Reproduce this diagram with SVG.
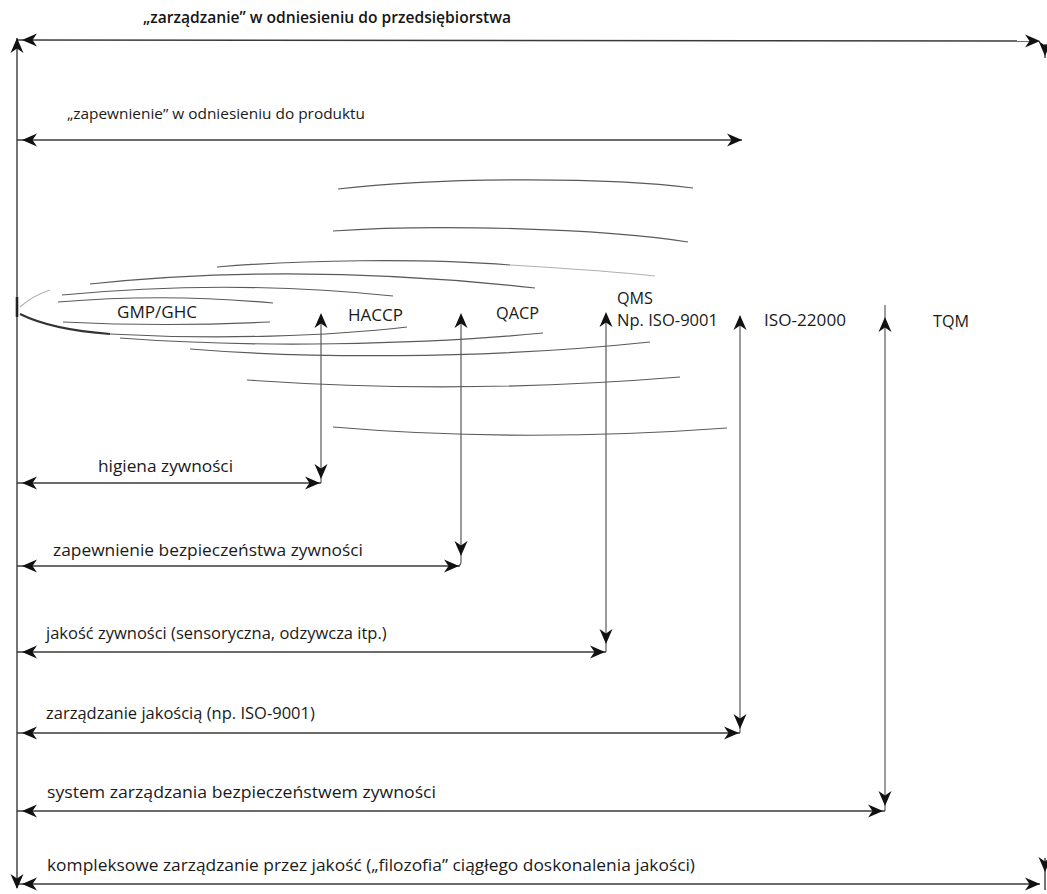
<svg xmlns="http://www.w3.org/2000/svg" xmlns:xlink="http://www.w3.org/1999/xlink" width="1047" height="894" viewBox="0 0 1047 894">
  <style>
    .lbl { font-family: "Open Sans", "Liberation Sans", sans-serif; font-size: 16px; fill: #1a1a1a; }
    .sys { font-family: "Open Sans", "Liberation Sans", sans-serif; font-size: 16.5px; fill: #1a1a1a; }
    .sub { font-family: "Open Sans", "Liberation Sans", sans-serif; font-size: 15px; fill: #1a1a1a; }
    .ttl { font-family: "Open Sans", "Liberation Sans", sans-serif; font-size: 15.5px; font-weight: 600; fill: #151515; }
    .dim { stroke: #3a3a3a; stroke-width: 1.4; fill: none; }
    .stem { stroke: #4a4a4a; stroke-width: 1.1; fill: none; }
    .arc { stroke: #5a5a5a; stroke-width: 1.2; fill: none; }
    .faint { stroke: #b0b0b0; stroke-width: 1.2; fill: none; }
    .head { fill: #111111; }
  </style>
  <defs>
    <!-- notched dart arrowhead, tip at the origin pointing along +x -->
    <path id="ah" d="M0,0 L-15,-6.5 L-10.5,0 L-15,6.5 Z"/>
  </defs>

  <rect width="1047" height="894" fill="#ffffff"/>

  <!-- frame and dimension lines -->
  <g id="connectors">
    <line class="dim" x1="17" y1="38" x2="17" y2="888"/>
    <line class="dim" x1="17" y1="40" x2="1040" y2="41"/>
    <line class="dim" x1="17" y1="140" x2="742" y2="140"/>
    <line class="dim" x1="17" y1="483" x2="321" y2="483"/>
    <line class="dim" x1="17" y1="566" x2="460" y2="566"/>
    <line class="dim" x1="17" y1="652" x2="606" y2="652"/>
    <line class="dim" x1="17" y1="733" x2="740" y2="733"/>
    <line class="dim" x1="17" y1="811" x2="885" y2="811"/>
    <line class="dim" x1="17" y1="884" x2="1040" y2="884"/>
    <line class="dim" x1="1045" y1="44" x2="1045" y2="58"/>
    <line class="dim" x1="1045" y1="858" x2="1045" y2="890"/>
    <!-- thickened vertex on the frame -->
    <line x1="17" y1="297" x2="17" y2="317" stroke="#222" stroke-width="2.6"/>

    <!-- vertical stems from the system labels -->
    <line class="stem" x1="321" y1="315" x2="321" y2="483"/>
    <path class="stem" d="M461,315 L461,562 Q461,566 456,566"/>
    <line class="stem" x1="606" y1="314" x2="606" y2="652"/>
    <line class="stem" x1="740" y1="316" x2="740" y2="733"/>
    <line class="stem" x1="885" y1="305" x2="885" y2="811"/>

    <!-- arrowheads: left ends -->
    <use xlink:href="#ah" class="head" transform="translate(22,40) rotate(180)"/>
    <use xlink:href="#ah" class="head" transform="translate(22,140) rotate(180)"/>
    <use xlink:href="#ah" class="head" transform="translate(22,483) rotate(180)"/>
    <use xlink:href="#ah" class="head" transform="translate(22,566) rotate(180)"/>
    <use xlink:href="#ah" class="head" transform="translate(22,652) rotate(180)"/>
    <use xlink:href="#ah" class="head" transform="translate(22,733) rotate(180)"/>
    <use xlink:href="#ah" class="head" transform="translate(22,811) rotate(180)"/>
    <use xlink:href="#ah" class="head" transform="translate(22,884) rotate(180)"/>
    <!-- frame corners -->
    <use xlink:href="#ah" class="head" transform="translate(17,38) rotate(-90)"/>
    <use xlink:href="#ah" class="head" transform="translate(17,889) rotate(90)"/>
    <use xlink:href="#ah" class="head" transform="translate(1045,56) rotate(90)"/>
    <use xlink:href="#ah" class="head" transform="translate(1045,872) rotate(90)"/>

    <!-- arrowheads: right ends -->
    <use xlink:href="#ah" class="head" transform="translate(1040,41)"/>
    <use xlink:href="#ah" class="head" transform="translate(742,140)"/>
    <use xlink:href="#ah" class="head" transform="translate(320,483)"/>
    <use xlink:href="#ah" class="head" transform="translate(459,566)"/>
    <use xlink:href="#ah" class="head" transform="translate(605,652)"/>
    <use xlink:href="#ah" class="head" transform="translate(739,733)"/>
    <use xlink:href="#ah" class="head" transform="translate(883,811)"/>
    <use xlink:href="#ah" class="head" transform="translate(1040,884)"/>

    <!-- arrowheads: stems up -->
    <use xlink:href="#ah" class="head" transform="translate(321,313) rotate(-90)"/>
    <use xlink:href="#ah" class="head" transform="translate(461,313) rotate(-90)"/>
    <use xlink:href="#ah" class="head" transform="translate(606,312) rotate(-90)"/>
    <use xlink:href="#ah" class="head" transform="translate(740,315) rotate(-90)"/>
    <use xlink:href="#ah" class="head" transform="translate(885,317) rotate(-90)"/>

    <!-- arrowheads: stems down -->
    <use xlink:href="#ah" class="head" transform="translate(321,479) rotate(90)"/>
    <use xlink:href="#ah" class="head" transform="translate(461,556) rotate(90)"/>
    <use xlink:href="#ah" class="head" transform="translate(606,644) rotate(90)"/>
    <use xlink:href="#ah" class="head" transform="translate(740,729) rotate(90)"/>
    <use xlink:href="#ah" class="head" transform="translate(885,806) rotate(90)"/>
  </g>

  <!-- nested scope curves opening from the frame -->
  <g id="scope-curves">
    <path class="arc" d="M338,189 C430,178 600,176 693,188"/>
    <path class="arc" d="M333,231 C430,224 600,228 688,242"/>
    <path class="arc" d="M217,267 C300,260 420,258 510,265"/>
    <path class="faint" d="M510,265 C560,268 620,272 655,276"/>
    <path class="arc" d="M90,284 Q300,262 535,288"/>
    <path class="arc" d="M62,295 Q230,279 393,296"/>
    <path class="arc" d="M58,302 Q165,293 273,303"/>
    <path class="faint" d="M20,307 Q32,296 50,290"/>
    <path class="arc" d="M63,322 Q165,327 270,322"/>
    <path d="M20,314 C40,324 70,331 110,334" stroke="#333" stroke-width="2" fill="none"/>
    <path class="arc" d="M110,334 C220,340 330,336 407,327"/>
    <path class="arc" d="M120,338 C250,348 420,345 543,333"/>
    <path class="arc" d="M190,349 C300,358 480,360 650,342"/>
    <path class="arc" d="M247,380 Q460,395 680,377"/>
    <path class="arc" d="M333,427 Q520,443 727,428"/>
  </g>

  <!-- scope labels -->
  <g id="node-przedsiebiorstwo">
    <text class="ttl" x="143" y="23" textLength="368" lengthAdjust="spacingAndGlyphs">„zarządzanie” w odniesieniu do przedsiębiorstwa</text>
  </g>
  <g id="node-produkt">
    <text class="sub" x="67" y="119" textLength="298" lengthAdjust="spacingAndGlyphs">„zapewnienie” w odniesieniu do produktu</text>
  </g>

  <!-- systems -->
  <g id="node-gmp">
    <text class="sys" x="117" y="318" textLength="80" lengthAdjust="spacingAndGlyphs">GMP/GHC</text>
  </g>
  <g id="node-haccp">
    <text class="sys" x="348" y="321" textLength="55" lengthAdjust="spacingAndGlyphs">HACCP</text>
  </g>
  <g id="node-qacp">
    <text class="sys" x="496" y="319" textLength="43" lengthAdjust="spacingAndGlyphs">QACP</text>
  </g>
  <g id="node-qms">
    <text class="sys" x="617" y="304" textLength="36" lengthAdjust="spacingAndGlyphs">QMS</text>
    <text class="sys" x="617" y="326" textLength="101" lengthAdjust="spacingAndGlyphs">Np. ISO-9001</text>
  </g>
  <g id="node-iso22000">
    <text class="sys" x="764" y="326" textLength="82" lengthAdjust="spacingAndGlyphs">ISO-22000</text>
  </g>
  <g id="node-tqm">
    <text class="sys" x="933" y="327" textLength="36" lengthAdjust="spacingAndGlyphs">TQM</text>
  </g>

  <!-- scope rows -->
  <g id="node-higiena">
    <text class="lbl" x="98" y="472" textLength="135" lengthAdjust="spacingAndGlyphs">higiena zywności</text>
  </g>
  <g id="node-bezpieczenstwo">
    <text class="lbl" x="53" y="556" textLength="310" lengthAdjust="spacingAndGlyphs">zapewnienie bezpieczeństwa zywności</text>
  </g>
  <g id="node-jakosc">
    <text class="sys" x="46" y="639">jakość zywności (sensoryczna, odzywcza itp.)</text>
  </g>
  <g id="node-zarzadzanie-jakoscia">
    <text class="sys" x="46" y="719">zarządzanie jakością (np. ISO-9001)</text>
  </g>
  <g id="node-system-bezpieczenstwa">
    <text class="lbl" x="47" y="798" textLength="389" lengthAdjust="spacingAndGlyphs">system zarządzania bezpieczeństwem zywności</text>
  </g>
  <g id="node-kompleksowe">
    <text class="lbl" x="47" y="871" textLength="648" lengthAdjust="spacingAndGlyphs">kompleksowe zarządzanie przez jakość („filozofia” ciągłego doskonalenia jakości)</text>
  </g>
</svg>
